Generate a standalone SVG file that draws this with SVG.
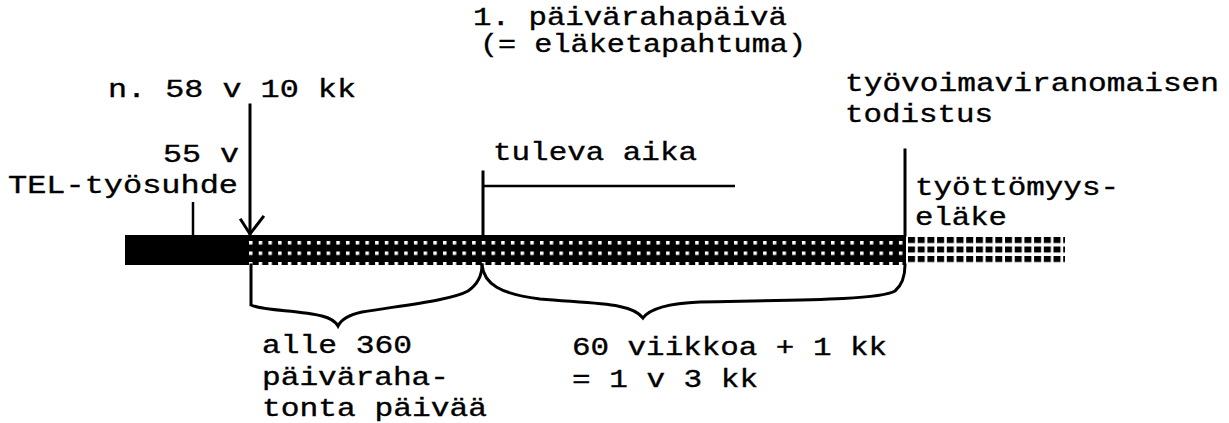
<svg xmlns="http://www.w3.org/2000/svg" width="1229" height="423" viewBox="0 0 1229 423">
<style>
  text { font-family: "Liberation Mono", "Courier New", monospace; font-size: 25px; fill: #000; stroke: #000; stroke-width: 0.35; }
  .ln { stroke: #000; stroke-width: 3; fill: none; stroke-linecap: square; }
  .thin { stroke: #000; stroke-width: 2.5; fill: none; }
</style>
<defs>
  <pattern id="whiteDots" patternUnits="userSpaceOnUse" x="249" y="241" width="9.7" height="10.5">
    <rect x="0" y="0" width="3.5" height="3.5" fill="#fff"/>
  </pattern>
  <pattern id="blackSquares" patternUnits="userSpaceOnUse" x="908" y="237" width="9.7" height="9.5">
    <rect x="0" y="0" width="7" height="6" fill="#000"/>
  </pattern>
</defs>
<rect width="1229" height="423" fill="#fff"/>

<g id="bar">
  <rect x="125" y="235" width="781" height="30" fill="#000"/>
  <rect x="249" y="241" width="657" height="25" fill="url(#whiteDots)"/>
  <rect x="908" y="237" width="157" height="26" fill="url(#blackSquares)"/>
</g>

<g id="connectors">
  <line class="thin" x1="193" y1="202" x2="193" y2="235"/>
  <line class="ln" x1="250" y1="105" x2="250" y2="234"/>
  <polyline class="ln" points="241,220 250,234 263,217"/>
  <line class="ln" x1="483" y1="172" x2="483" y2="235"/>
  <line class="thin" x1="483" y1="186" x2="735" y2="186"/>
  <line class="ln" x1="905" y1="150" x2="905" y2="235"/>
  <path class="ln" d="M251,265 L251,305 C262,311 300,310 322,316 Q334,319 338,326 Q343,316 362,312 C405,305 452,300 468,291 C478,284 482,275 482,265"/>
  <path class="ln" d="M482,265 C484,284 500,294 540,299 C600,304 632,303 643,318 Q653,304 700,302 C800,300 880,300 895,291 C902,285 905,276 905,265"/>
</g>

<g id="label-paivarahapaiva">
  <text x="473" y="25" textLength="314" lengthAdjust="spacingAndGlyphs">1. päivärahapäivä</text>
  <text x="480" y="52" textLength="326" lengthAdjust="spacingAndGlyphs">(= eläketapahtuma)</text>
</g>
<g id="label-58v">
  <text x="108" y="97" textLength="248" lengthAdjust="spacingAndGlyphs">n. 58 v 10 kk</text>
</g>
<g id="label-55v">
  <text x="163" y="162" textLength="76" lengthAdjust="spacingAndGlyphs">55 v</text>
  <text x="8" y="193" textLength="230" lengthAdjust="spacingAndGlyphs">TEL-työsuhde</text>
</g>
<g id="label-tuleva">
  <text x="493" y="160" textLength="204" lengthAdjust="spacingAndGlyphs">tuleva aika</text>
</g>
<g id="label-todistus">
  <text x="845" y="91" textLength="374" lengthAdjust="spacingAndGlyphs">työvoimaviranomaisen</text>
  <text x="845" y="122" textLength="148" lengthAdjust="spacingAndGlyphs">todistus</text>
</g>
<g id="label-elake">
  <text x="915" y="195" textLength="204" lengthAdjust="spacingAndGlyphs">työttömyys-</text>
  <text x="915" y="225" textLength="92" lengthAdjust="spacingAndGlyphs">eläke</text>
</g>
<g id="label-alle360">
  <text x="262" y="353" textLength="150" lengthAdjust="spacingAndGlyphs">alle 360</text>
  <text x="262" y="385" textLength="187" lengthAdjust="spacingAndGlyphs">päiväraha-</text>
  <text x="262" y="416" textLength="225" lengthAdjust="spacingAndGlyphs">tonta päivää</text>
</g>
<g id="label-60viikkoa">
  <text x="572" y="355" textLength="315" lengthAdjust="spacingAndGlyphs">60 viikkoa + 1 kk</text>
  <text x="572" y="387" textLength="186" lengthAdjust="spacingAndGlyphs">= 1 v 3 kk</text>
</g>
</svg>
